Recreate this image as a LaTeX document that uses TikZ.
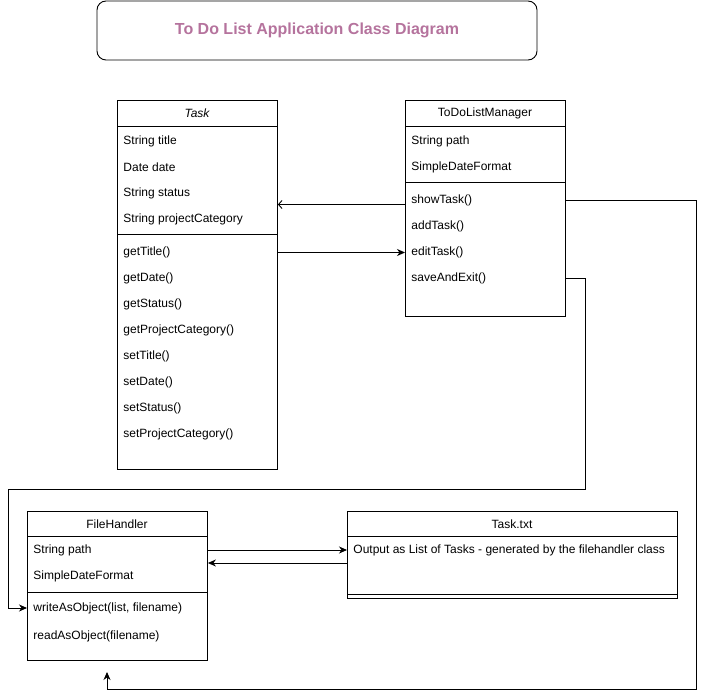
\documentclass[tikz,border=0pt]{standalone}
\usepackage{fontspec}
\setmainfont{Liberation Sans}
\usetikzlibrary{arrows.meta,calc}
\definecolor{titlepink}{HTML}{B5739D}

\begin{document}
\begin{tikzpicture}[x=1pt, y=-1pt, line width=0.9pt,
  font=\fontsize{12}{14}\selectfont,
  box/.style={draw, anchor=north west, inner sep=0pt},
  row/.style={anchor=west, inner sep=0pt},
  head/.style={inner sep=0pt},
  filltip/.style={-{Stealth[length=8pt,width=7pt,inset=2.5pt]}},
  opentip/.style={-{Straight Barb[length=3.5pt,width=8pt]}}]
  \useasboundingbox (0,0) rectangle (706,700);
  % title
  \node[draw, rounded corners=9pt, minimum width=440pt, minimum height=59pt, text=titlepink,
    font=\fontsize{16}{19}\bfseries\selectfont] (title) at (317,30.5) {To Do List Application Class Diagram};
  % Task
  \node[box, minimum width=160pt, minimum height=369pt] (task) at (117,100) {};
  \node[head, font=\fontsize{12}{14}\itshape\selectfont] (taskname) at (197,113.5) {Task};
  \draw (117,126) -- (277,126) (117,234) -- (277,234);
  \foreach \txt [count=\i] in {String title, Date date, String status, String projectCategory}
    \node[row] (ta\i) at (123,115+26*\i) {\txt};
  \foreach \txt [count=\i] in {getTitle(), getDate(), getStatus(), getProjectCategory(),
      setTitle(), setDate(), setStatus(), setProjectCategory()}
    \node[row] (tm\i) at (123,226.5+26*\i) {\txt};
  % ToDoListManager
  \node[box, minimum width=160pt, minimum height=216pt] (mgr) at (405,100) {};
  \node[head] (mgrname) at (485,113.5) {ToDoListManager};
  \draw (405,126) -- (565,126) (405,182) -- (565,182);
  \foreach \txt [count=\i] in {String path, SimpleDateFormat}
    \node[row] (ma\i) at (411,115+26*\i) {\txt};
  \foreach \txt [count=\i] in {showTask(), addTask(), editTask(), saveAndExit()}
    \node[row] (mm\i) at (411,174.5+26*\i) {\txt};
  % FileHandler
  \node[box, minimum width=180pt, minimum height=149pt] (fh) at (27,511) {};
  \node[head] (fhname) at (117,524) {FileHandler};
  \draw (27,536) -- (207,536) (27,592) -- (207,592);
  \node[row] (fa1) at (33,550) {String path};
  \node[row] (fa2) at (33,576.5) {SimpleDateFormat};
  \node[row] (fm1) at (33,608) {writeAsObject(list, filename)};
  \node[row] (fm2) at (33,636) {readAsObject(filename)};
  % Task.txt
  \node[box, minimum width=330pt, minimum height=87pt] (txt) at (347,511) {};
  \node[head] (txtname) at (512,524) {Task.txt};
  \draw (347,536) -- (677,536) (347,594) -- (677,594);
  \node[row] (out) at (353,550) {Output as List of Tasks - generated by the filehandler class};
  % connectors
  \coordinate (farright) at (696,689);
  \coordinate (fhin) at (107,672);
  \coordinate (bendA) at (585,489);
  \coordinate (bendB) at (8,489);
  \draw[opentip] ($(mgr.west |- mm1)+(0,4)$) -- ($(task.east |- mm1)+(0,4)$);
  \draw[filltip] (task.east |- tm1) -- (mgr.west |- tm1);
  \draw[filltip] (mgr.east |- mm1) -| (farright) -| (fhin);
  \draw[filltip] (mgr.east |- mm4) -| (bendA) -- (bendB) |- (fh.west |- fm1);
  \draw[filltip] (fh.east |- fa1) -- (txt.west |- fa1);
  \draw[filltip] ($(txt.west |- fa1)+(0,13)$) -- ($(fh.east |- fa1)+(0,13)$);
\end{tikzpicture}
\end{document}
